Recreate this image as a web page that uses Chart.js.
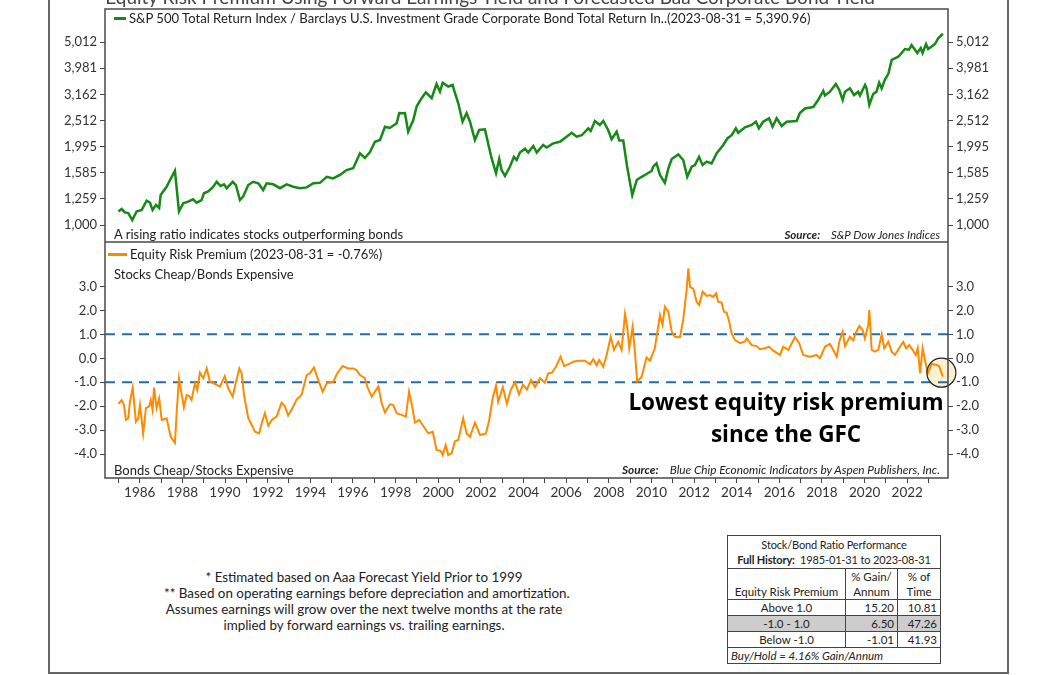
<!DOCTYPE html>
<html>
<head>
<meta charset="utf-8">
<script src="https://cdn.jsdelivr.net/npm/chart.js@4.4.0/dist/chart.umd.min.js"></script>
<style>
body{margin:0;background:#fff;font-family:Lato,sans-serif;color:#222;}
#wrap{position:relative;width:1056px;height:675px;overflow:hidden;background:#fff;}
.abs{position:absolute;white-space:nowrap;line-height:16px;}
canvas{position:absolute;}
.frame{position:absolute;background:#666;}
#perf{position:absolute;left:727px;top:535px;width:213px;border-collapse:collapse;table-layout:fixed;font-size:11.5px;line-height:15px;color:#222;border:1.5px solid #333;white-space:nowrap;}
#perf td{border:1px solid #444;padding:0 3px;overflow:hidden;}
#perf .ttl{text-align:center;height:32px;padding:0;}
#perf .ttl span{font-size:11px;letter-spacing:-0.15px;}
#perf .hdr td{height:30px;vertical-align:bottom;text-align:center;}
#perf .row td{height:15px;}
#perf .row td:first-child{text-align:center;}
#perf .row td.num{text-align:right;}
#perf .mid td{background:#cdcdcd;}
#perf .foot{font-style:italic;height:15px;}
</style>
</head>
<body>
<div id="wrap">
  <div class="frame" style="left:48px;top:0;width:1.5px;height:674px"></div>
  <div class="frame" style="left:1007px;top:0;width:1.5px;height:674px"></div>
  <div class="frame" style="left:48px;top:672px;width:960px;height:1.5px"></div>

  <canvas id="topChart" width="960" height="242" style="left:48px;top:0"></canvas>
  <canvas id="erpChart" width="960" height="263" style="left:48px;top:242px"></canvas>

  <div class="abs" style="left:0;width:980px;text-align:center;top:-12px;font-size:19px;line-height:18px;color:#444">Equity Risk Premium Using Forward Earnings Yield and Forecasted Baa Corporate Bond Yield</div>

  <div class="abs" style="left:114px;top:17px;width:12px;height:2.5px;background:#168a16"></div>
  <div class="abs" style="left:129px;top:10px;font-size:13.1px">S&amp;P 500 Total Return Index / Barclays U.S. Investment Grade Corporate Bond Total Return In..(2023-08-31 = 5,390.96)</div>
  <div class="abs" style="left:114px;top:226px;font-size:13px">A rising ratio indicates stocks outperforming bonds</div>
  <div class="abs" style="right:116px;top:227px;font-size:11.5px;font-style:italic"><b>Source:</b>&nbsp;&nbsp;&nbsp; S&amp;P Dow Jones Indices</div>

  <div class="abs" style="left:108px;top:253px;width:19px;height:2.5px;background:#ff8a00"></div>
  <div class="abs" style="left:130px;top:246px;font-size:13px">Equity Risk Premium (2023-08-31 = -0.76%)</div>
  <div class="abs" style="left:114px;top:266px;font-size:13px">Stocks Cheap/Bonds Expensive</div>
  <div class="abs" style="left:114px;top:462px;font-size:13px">Bonds Cheap/Stocks Expensive</div>
  <div class="abs" style="right:116px;top:462px;font-size:11.8px;font-style:italic"><b>Source:</b>&nbsp;&nbsp;&nbsp; Blue Chip Economic Indicators by Aspen Publishers, Inc.</div>

  <div class="abs" style="left:586px;width:400px;text-align:center;top:386px;font-family:'Open Sans',sans-serif;font-weight:bold;font-size:22.5px;line-height:32px;color:#000">Lowest equity risk premium<br>since the GFC</div>

  <div class="abs" style="left:164px;width:400px;text-align:center;top:569px;font-size:13.4px;color:#222">* Estimated based on Aaa Forecast Yield Prior to 1999<br>** Based on operating earnings before depreciation and amortization.<br>Assumes earnings will grow over the next twelve months at the rate<br>implied by forward earnings vs. trailing earnings.</div>

  <table id="perf"></table>
</div>

<script>
// ---------------- DATA ----------------
const ratioDates = [1985.0,1985.15,1985.3,1985.46,1985.65,1985.85,1986.09,1986.32,1986.48,1986.6,1986.76,1986.91,1986.98,1987.26,1987.42,1987.65,1987.84,1988.04,1988.27,1988.5,1988.67,1988.9,1989.01,1989.21,1989.42,1989.61,1989.79,1989.95,1990.08,1990.36,1990.51,1990.7,1990.85,1991.09,1991.32,1991.56,1991.79,1991.95,1992.26,1992.58,1992.89,1993.2,1993.51,1993.83,1994.14,1994.45,1994.77,1995.07,1995.39,1995.7,1996.01,1996.33,1996.56,1996.8,1997.03,1997.27,1997.5,1997.73,1998.05,1998.17,1998.34,1998.44,1998.59,1998.83,1998.99,1999.22,1999.42,1999.69,1999.92,2000.08,2000.21,2000.47,2000.68,2000.74,2000.94,2001.14,2001.33,2001.49,2001.72,2001.92,2002.19,2002.27,2002.5,2002.71,2002.86,2002.97,2003.13,2003.36,2003.55,2003.68,2003.83,2004.07,2004.22,2004.46,2004.62,2004.92,2005.08,2005.39,2005.71,2006.02,2006.26,2006.49,2006.73,2007.04,2007.15,2007.35,2007.58,2007.74,2007.97,2008.13,2008.37,2008.49,2008.68,2008.86,2009.1,2009.31,2009.54,2009.77,2010.01,2010.08,2010.24,2010.4,2010.63,2010.79,2010.95,2011.26,2011.49,2011.68,2011.89,2012.04,2012.23,2012.4,2012.59,2012.82,2013.06,2013.37,2013.56,2013.76,2013.96,2014.07,2014.39,2014.7,2014.9,2015.04,2015.24,2015.52,2015.68,2015.87,2016.11,2016.34,2016.81,2016.96,2017.2,2017.59,2017.82,2018.06,2018.14,2018.37,2018.65,2018.81,2018.97,2019.08,2019.31,2019.5,2019.7,2019.78,2020.02,2020.09,2020.22,2020.4,2020.56,2020.68,2020.8,2020.95,2021.11,2021.27,2021.58,2021.73,2021.89,2022.08,2022.2,2022.36,2022.47,2022.63,2022.72,2022.88,2022.98,2023.3,2023.45,2023.67];
const ratioValues = [1127,1151,1117,1111,1045,1127,1141,1239,1218,1141,1193,1161,1302,1401,1486,1612,1127,1211,1228,1254,1218,1246,1323,1343,1393,1463,1410,1431,1383,1463,1422,1246,1284,1422,1463,1444,1361,1444,1431,1383,1431,1401,1383,1393,1444,1450,1529,1507,1554,1623,1648,1881,1805,1900,2081,2114,2377,2350,2451,2680,2675,2680,2275,2522,2845,3055,3218,3055,3463,3237,3502,3386,3433,3285,2922,2484,2680,2484,2114,2309,2322,2174,1805,1577,1789,1623,1540,1671,1823,1773,1893,1959,1893,2006,1893,2023,1980,2053,2081,2177,2254,2177,2205,2344,2290,2500,2413,2500,2309,2128,2275,2105,2105,1671,1302,1486,1529,1567,1609,1671,1720,1554,1450,1643,1789,1861,1773,1529,1671,1696,1823,1696,1748,1720,1881,2023,2143,2205,2344,2254,2365,2413,2484,2344,2484,2559,2377,2559,2392,2484,2500,2680,2790,2828,3008,3256,3128,3237,3463,3285,3008,3237,3333,3142,3237,3128,3433,3333,2878,3172,3237,3502,3333,3600,3778,4279,4403,4550,4713,4683,4882,4683,4550,4750,4550,4925,4713,4925,5175,5391];

const erpDates = [1985.0,1985.15,1985.26,1985.35,1985.46,1985.54,1985.67,1985.82,1985.93,1986.01,1986.16,1986.29,1986.44,1986.52,1986.6,1986.67,1986.79,1986.91,1987.03,1987.26,1987.45,1987.65,1987.73,1987.84,1987.96,1988.07,1988.2,1988.32,1988.43,1988.59,1988.7,1988.82,1988.98,1989.14,1989.29,1989.53,1989.76,1989.99,1990.15,1990.36,1990.46,1990.67,1990.78,1990.89,1991.09,1991.29,1991.4,1991.6,1991.72,1991.87,1992.03,1992.19,1992.42,1992.65,1992.81,1992.96,1993.2,1993.36,1993.59,1993.83,1993.98,1994.17,1994.37,1994.58,1994.77,1995.08,1995.26,1995.52,1995.78,1996.01,1996.17,1996.33,1996.56,1996.67,1996.88,1997.03,1997.19,1997.35,1997.5,1997.73,1997.89,1998.05,1998.28,1998.48,1998.63,1998.75,1998.91,1999.11,1999.3,1999.53,1999.74,1999.92,2000.11,2000.21,2000.35,2000.47,2000.63,2000.78,2000.94,2001.17,2001.33,2001.49,2001.72,2001.96,2002.24,2002.39,2002.55,2002.71,2002.81,2003.03,2003.22,2003.41,2003.6,2003.79,2003.97,2004.16,2004.35,2004.54,2004.77,2005.0,2005.16,2005.33,2005.52,2005.74,2005.9,2006.1,2006.33,2006.57,2006.88,2007.12,2007.27,2007.43,2007.55,2007.74,2007.9,2008.09,2008.24,2008.44,2008.6,2008.76,2008.86,2008.96,2009.12,2009.23,2009.33,2009.54,2009.77,2009.93,2010.16,2010.4,2010.52,2010.63,2010.79,2010.95,2011.1,2011.34,2011.49,2011.65,2011.73,2011.81,2011.96,2012.12,2012.24,2012.4,2012.59,2012.74,2012.9,2013.03,2013.13,2013.29,2013.4,2013.53,2013.65,2013.76,2013.92,2014.16,2014.39,2014.47,2014.7,2014.93,2015.09,2015.32,2015.53,2015.71,2016.03,2016.18,2016.42,2016.73,2016.93,2017.12,2017.43,2017.75,2017.9,2018.14,2018.37,2018.53,2018.69,2018.81,2018.97,2019.08,2019.31,2019.47,2019.61,2019.75,2019.91,2020.01,2020.17,2020.22,2020.33,2020.48,2020.64,2020.8,2020.92,2021.11,2021.27,2021.42,2021.66,2021.81,2021.94,2022.09,2022.25,2022.4,2022.49,2022.6,2022.72,2022.83,2022.96,2023.14,2023.39,2023.5,2023.67];
const erpValues = [-1.90,-1.74,-1.95,-2.57,-2.5,-1.81,-1.22,-2.64,-2.5,-1.95,-3.13,-2.08,-2.0,-1.74,-2.15,-1.22,-2.08,-1.67,-2.57,-2.5,-3.27,-3.52,-2.29,-0.83,-1.46,-2.04,-1.53,-1.57,-1.74,-1.04,-1.32,-0.6,-0.83,-0.42,-0.97,-1.07,-1.18,-0.74,-1.25,-1.6,-1.18,-0.42,-0.63,-1.53,-2.5,-2.85,-3.06,-3.13,-2.71,-2.29,-2.81,-2.57,-2.43,-1.85,-2.01,-2.39,-2.01,-1.71,-1.53,-0.7,-0.63,-0.38,-0.9,-1.39,-1.04,-0.97,-0.63,-0.32,-0.42,-0.42,-0.49,-0.7,-0.83,-1.18,-1.6,-1.39,-1.18,-1.88,-2.26,-1.92,-1.95,-2.29,-2.36,-2.43,-1.39,-1.88,-2.68,-2.57,-2.82,-3.13,-3.06,-3.82,-3.86,-4.03,-3.61,-4.03,-3.96,-3.47,-3.4,-2.5,-3.13,-3.27,-2.68,-3.2,-3.13,-2.57,-1.67,-1.14,-1.81,-1.2,-1.9,-1.3,-1.0,-1.5,-1.1,-1.3,-0.9,-1.2,-0.83,-1.02,-0.63,-0.6,-0.35,0.07,-0.32,-0.25,-0.14,-0.1,-0.1,-0.25,-0.04,-0.29,-0.07,-0.35,0.14,0.9,0.35,0.69,0.35,1.85,1.32,0.42,1.32,0.2,-0.97,-0.77,0.04,-0.1,0.42,1.8,1.4,2.15,1.95,1.11,0.9,0.88,1.6,2.85,3.75,2.98,2.9,2.36,2.22,2.78,2.6,2.64,2.56,2.71,2.36,2.32,1.94,1.9,1.53,1.04,0.76,0.63,0.7,0.83,0.55,0.51,0.38,0.42,0.48,0.32,0.14,0.48,0.35,0.88,0.63,0.14,0.07,0.14,0.0,0.48,0.6,0.35,0.07,0.69,1.11,0.51,0.9,0.76,1.11,1.35,1.18,0.83,1.39,2.01,0.35,0.28,0.35,1.0,0.42,0.69,0.28,0.14,0.48,0.69,0.42,0.55,0.35,0.14,0.42,-0.63,0.42,-0.07,-0.63,-0.24,-0.28,-0.35,-0.76];

const ratioTicks = [1000,1259,1585,1995,2512,3162,3981,5012];
const erpTicks = [-4,-3,-2,-1,0,1,2,3];
const yearTicks = [];
for(let y=1985;y<=2023;y++) yearTicks.push(y);
const bandLines = [1,-1];

const perfBands = ["Above 1.0","-1.0 - 1.0","Below -1.0"];
const perfGain = ["15.20","6.50","-1.01"];
const perfTime = ["10.81","47.26","41.93"];

const xMin = 1984.37, xMax = 2023.91;

// ---------------- TABLE ----------------
let rows = `<tr><td colspan="3" class="ttl"><span>Stock/Bond Ratio Performance</span><br><span><b>Full History:</b>&nbsp; 1985-01-31 to 2023-08-31</span></td></tr>
<tr class="hdr"><td>Equity Risk Premium</td><td>% Gain/<br>Annum</td><td>% of<br>Time</td></tr>`;
perfBands.forEach((b,i)=>{
  rows += `<tr class="row${i===1?' mid':''}"><td>${b}</td><td class="num">${perfGain[i]}</td><td class="num">${perfTime[i]}</td></tr>`;
});
rows += `<tr><td colspan="3" class="foot">Buy/Hold = 4.16% Gain/Annum</td></tr>`;
const tbl = document.getElementById("perf");
tbl.innerHTML = `<colgroup><col style="width:118px"><col style="width:52px"><col style="width:43px"></colgroup>` + rows;

// ---------------- CHARTS ----------------
Chart.defaults.font.family = "Lato";
Chart.defaults.color = "#333";

const tickFont = {size:13};

// draw the dark frame round each plot area
const panelBox = {
  id:"panelBox",
  afterDraw(chart){
    const {ctx, chartArea:a} = chart;
    ctx.save();
    ctx.strokeStyle = "#4a4a4a";
    ctx.lineWidth = 1.5;
    ctx.strokeRect(a.left, a.top, a.right-a.left, a.bottom-a.top);
    ctx.restore();
  }
};

function noPad(s){ s.paddingTop = 0; s.paddingBottom = 0; s.paddingLeft = 0; s.paddingRight = 0; }

function yAxis(pos, type, min, max, ticks, fmt){
  return {
    type: type,
    position: pos,
    min: min,
    max: max,
    afterBuildTicks: s => { s.ticks = ticks.map(v => ({value:v})); },
    afterFit: s => { s.width = pos === "left" ? 57 : 60; noPad(s); },
    ticks: {font:tickFont, color:"#333", padding:3, callback: fmt, autoSkip:false},
    grid: {drawOnChartArea:false, tickLength:5, color:"#444"},
    border: {display:false}
  };
}

const fmtRatio = v => Number(v).toLocaleString("en-US");
const fmtErp = v => Number(v).toFixed(1);

new Chart(document.getElementById("topChart"),{
  type:"line",
  data:{
    datasets:[{
      data: ratioDates.map((d,i)=>({x:d, y:ratioValues[i]})),
      borderColor:"#168a16",
      borderWidth:2.5,
      pointRadius:0,
      tension:0
    }]
  },
  options:{
    responsive:false,
    animation:false,
    layout:{padding:{top:9,left:0,right:0,bottom:0}},
    plugins:{legend:{display:false}, tooltip:{enabled:false}},
    scales:{
      x:{type:"linear", min:xMin, max:xMax, display:false},
      y: yAxis("left","logarithmic",861,6704,ratioTicks,fmtRatio),
      y2: yAxis("right","logarithmic",861,6704,ratioTicks,fmtRatio)
    }
  },
  plugins:[panelBox]
});

// circle round the last reading
const lowCircle = {
  id:"lowCircle",
  beforeDatasetsDraw(chart){
    const c = circlePos(chart);
    const ctx = chart.ctx;
    ctx.save();
    ctx.beginPath();
    ctx.arc(c.x, c.y, 14.5, 0, Math.PI*2);
    ctx.fillStyle = "#fdf0cf";
    ctx.fill();
    ctx.restore();
  },
  afterDatasetsDraw(chart){
    const c = circlePos(chart);
    const ctx = chart.ctx;
    ctx.save();
    ctx.beginPath();
    ctx.arc(c.x, c.y, 14.5, 0, Math.PI*2);
    ctx.strokeStyle = "#222";
    ctx.lineWidth = 1.2;
    ctx.stroke();
    ctx.restore();
  }
};
function circlePos(chart){
  return {x: chart.scales.x.getPixelForValue(2023.6), y: chart.scales.y.getPixelForValue(-0.6)};
}

const bandSets = bandLines.map(v => ({
  data:[{x:xMin,y:v},{x:xMax,y:v}],
  borderColor:"#1f70a8",
  borderWidth:2,
  borderDash:[10,7],
  pointRadius:0,
  order:2
}));

new Chart(document.getElementById("erpChart"),{
  type:"line",
  data:{
    datasets:[{
      data: erpDates.map((d,i)=>({x:d, y:erpValues[i]})),
      borderColor:"#ff8a00",
      borderWidth:2,
      pointRadius:0,
      tension:0,
      order:1
    }].concat(bandSets)
  },
  options:{
    responsive:false,
    animation:false,
    layout:{padding:0},
    plugins:{legend:{display:false}, tooltip:{enabled:false}},
    scales:{
      x:{
        type:"linear", min:xMin, max:xMax,
        afterBuildTicks: s => { s.ticks = yearTicks.map(v => ({value:v})); },
        afterFit: s => { s.height = 27; noPad(s); },
        ticks:{font:{size:13.5}, color:"#333", padding:2, maxRotation:0, autoSkip:false,
          callback: v => v % 2 === 0 ? String(v) : ""},
        grid:{drawOnChartArea:false, tickLength:5, color:"#444"},
        border:{display:false}
      },
      y: yAxis("left","linear",-4.99,4.85,erpTicks,fmtErp),
      y2: yAxis("right","linear",-4.99,4.85,erpTicks,fmtErp)
    }
  },
  plugins:[panelBox, lowCircle]
});
</script>
</body>
</html>
